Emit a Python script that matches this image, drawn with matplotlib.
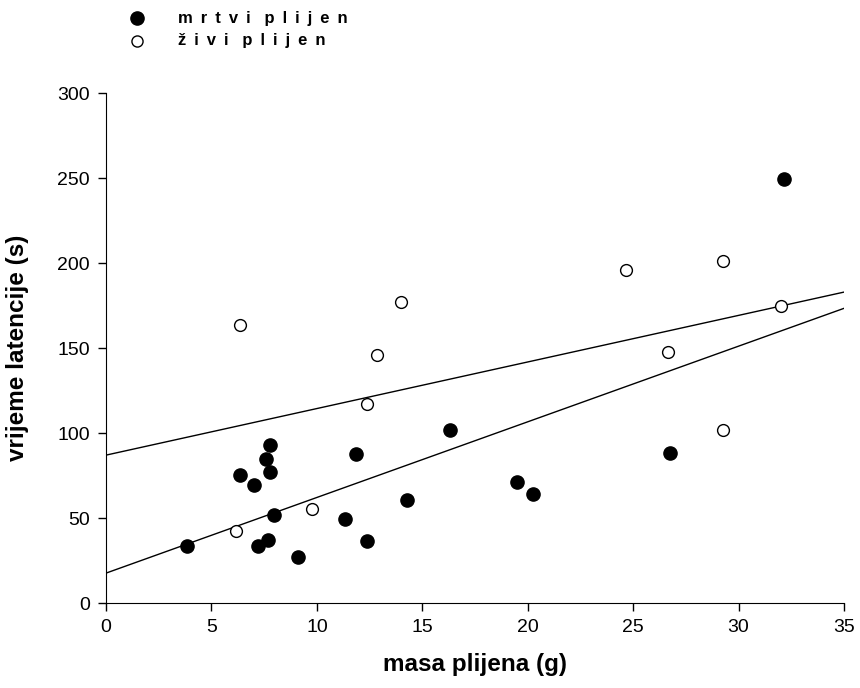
import matplotlib
matplotlib.use('Agg')
import matplotlib.pyplot as plt
import numpy as np

plt.rcParams['font.family'] = ['Liberation Sans', 'DejaVu Sans']

# mrtvi plijen (filled)
dead_mass = [3.86, 6.37, 7.03, 7.57, 7.78, 7.78, 7.97, 7.19, 7.7, 9.09, 11.35, 11.85, 12.38,
             14.26, 16.3, 19.47, 20.25, 26.74, 32.16]
dead_time = [33.3, 75.3, 69.4, 84.5, 93.1, 77.2, 52.0, 33.3, 37.0, 27.3, 49.2, 87.6, 36.3,
             60.4, 101.6, 71.4, 64.3, 88.2, 249.2]

# zivi plijen (open)
live_mass = [6.35, 6.16, 9.78, 12.36, 12.85, 13.97, 24.67, 29.24, 26.66, 32.03, 29.24]
live_time = [163.5, 42.4, 55.3, 117.0, 145.9, 176.9, 196.1, 201.2, 147.8, 174.9, 101.8]

# regression lines (intercept, slope)
dead_fit = (17.6, 4.45)
live_fit = (87.0, 2.74)

fig = plt.figure(figsize=(8.6, 6.88), dpi=100)
ax = fig.add_axes([0.1233, 0.1235, 0.8581, 0.7413])

xs = np.array([0, 35])
for b, m in (dead_fit, live_fit):
    ax.plot(xs, b + m * xs, color='black', lw=1.0, zorder=1)

ax.plot(dead_mass, dead_time, 'o', color='black', ms=9.5, zorder=3, clip_on=False)
ax.plot(live_mass, live_time, 'o', mfc='white', mec='black', mew=1.0, ms=8.5, zorder=3, clip_on=False)

ax.set_xlim(0, 35)
ax.set_ylim(0, 300)
ax.set_xticks(range(0, 36, 5))
ax.set_yticks(range(0, 301, 50))
ax.spines['top'].set_visible(False)
ax.spines['right'].set_visible(False)
ax.tick_params(direction='out', length=6, labelsize=14, width=1, pad=5.5)
ax.set_xlabel('masa plijena (g)', fontsize=17.5, fontweight='bold')
ax.set_ylabel('vrijeme latencije (s)', fontsize=17.5, fontweight='bold')
ax.xaxis.set_label_coords(0.5, -0.098)
ax.yaxis.set_label_coords(-0.104, 0.5)

# legend at top left
lx = 137 / 860
fig.add_artist(plt.Line2D([lx], [1 - 18 / 688], marker='o', color='black', ms=9.5, ls='none'))
fig.add_artist(plt.Line2D([lx], [1 - 41 / 688], marker='o', mfc='white', mec='black', mew=1.0, ms=8, ls='none'))
gap = ' \u2009'
fig.text(178 / 860, 1 - 18 / 688, gap.join('mrtvi') + '   ' + gap.join('plijen'),
         fontsize=12, fontweight='bold', va='center')
fig.text(178 / 860, 1 - 41 / 688, gap.join('živi') + '   ' + gap.join('plijen'),
         fontsize=12, fontweight='bold', va='center')

fig.savefig('out.png', dpi=100)
